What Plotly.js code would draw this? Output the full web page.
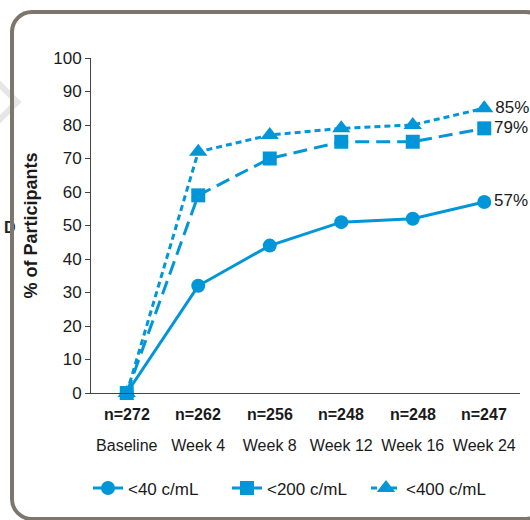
<!DOCTYPE html>
<html>
<head>
<meta charset="utf-8">
<script src="https://cdn.plot.ly/plotly-3.0.1.min.js"></script>
<style>
  html, body { margin: 0; padding: 0; background: #fff; }
  body { width: 530px; height: 520px; position: relative; overflow: hidden; font-family: Arial, "Liberation Sans", sans-serif; }
  #frame { position: absolute; left: 10px; top: 10px; width: 530px; height: 503px; border: 4px solid #7d766c; border-radius: 22px; box-sizing: content-box; }
  #chev { position: absolute; left: -22px; top: 84px; width: 30px; height: 30px; transform: rotate(45deg); border-top: 6px solid #e6e6e6; border-right: 6px solid #e6e6e6; }
  #dfrag { position: absolute; left: 4px; top: 219px; font-size: 16px; font-weight: bold; color: #222; }
  #plot { position: absolute; left: 0; top: 0; width: 530px; height: 520px; }
</style>
</head>
<body>
<div id="chev"></div>
<div id="dfrag">D</div>
<div id="frame"></div>
<div id="plot"></div>
<script>
const categories = ["Baseline", "Week 4", "Week 8", "Week 12", "Week 16", "Week 24"];
const nLabels = ["n=272", "n=262", "n=256", "n=248", "n=248", "n=247"];
const below40 = [0, 32, 44, 51, 52, 57];
const below200 = [0, 59, 70, 75, 75, 79];
const below400 = [0, 72, 77, 79, 80, 85];
const seriesNames = ["<40 c/mL", "<200 c/mL", "<400 c/mL"];

const blue = "#0096d8";
const FONT = "Arial, Liberation Sans, sans-serif";
const idx = categories.map((c, i) => i);
function endLabels(vals) { return vals.map((v, i) => i === vals.length - 1 ? v + "%" : ""); }

function mk(vals, name, dash, symbol) {
  return {
    x: idx, y: vals, name: name, type: "scatter", mode: "lines+markers+text",
    text: endLabels(vals), textposition: "middle right",
    textfont: { family: FONT, size: 17, color: "#1a1a1a" },
    line: { color: blue, width: 3, dash: dash },
    marker: { color: blue, size: symbol === "triangle-up" ? 16 : 14, symbol: symbol },
    cliponaxis: false
  };
}

const data = [
  mk(below40, seriesNames[0], "solid", "circle"),
  mk(below200, seriesNames[1], "14px,7px", "square"),
  mk(below400, seriesNames[2], "6px,4px", "triangle-up")
];

const annotations = nLabels.map((t, i) => ({
  x: i, y: 0, xref: "x", yref: "paper", text: "<b>" + t + "</b>",
  showarrow: false, yshift: -21, yanchor: "middle",
  font: { family: FONT, size: 16, color: "#1a1a1a" }
}));

const layout = {
  width: 530, height: 520,
  margin: { l: 91, r: 10, t: 58, b: 127 },
  paper_bgcolor: "rgba(0,0,0,0)", plot_bgcolor: "rgba(0,0,0,0)",
  font: { family: FONT, color: "#1a1a1a" },
  showlegend: true,
  legend: { orientation: "h", x: 0.479, xanchor: "center", y: -0.285, yanchor: "middle",
            font: { size: 17, color: "#1a1a1a" }, traceorder: "normal",
            entrywidth: 94, entrywidthmode: "pixels" },
  xaxis: {
    range: [-0.5, 5.5], tickmode: "array", tickvals: idx, ticktext: categories,
    showline: true, linecolor: "#444", linewidth: 1, ticks: "", showgrid: false, zeroline: false,
    tickfont: { size: 16, color: "#1a1a1a" }, ticklabelstandoff: 38, fixedrange: true
  },
  yaxis: {
    range: [0, 100], dtick: 10, showline: true, linecolor: "#444", linewidth: 1,
    ticks: "outside", ticklen: 5, tickcolor: "#444", showgrid: false, zeroline: false,
    tickfont: { size: 17, color: "#1a1a1a" },
    title: { text: "<b>% of Participants</b>", font: { size: 18, color: "#1a1a1a" }, standoff: 10 }
  },
  annotations: annotations
};

Plotly.newPlot("plot", data, layout, { displayModeBar: false, staticPlot: true });
</script>
</body>
</html>
